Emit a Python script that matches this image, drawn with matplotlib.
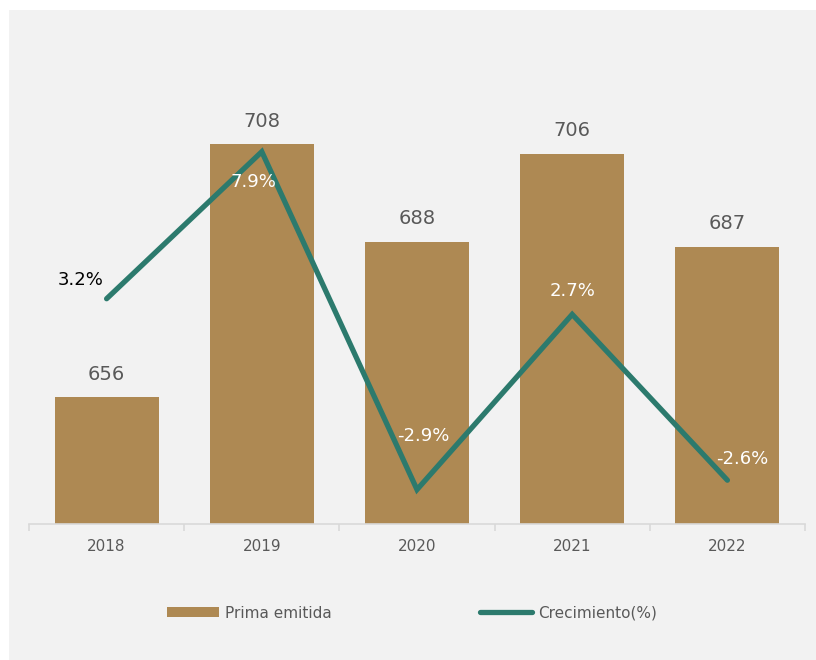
import numpy as np
import matplotlib.pyplot as plt

# datos
anios = ['2018', '2019', '2020', '2021', '2022']
prima = [656, 708, 688, 706, 687]
crecimiento = [3.2, 7.9, -2.9, 2.7, -2.6]

color_barra = '#ae8953'
color_linea = '#2c7a6d'
gris_texto = '#595959'

plt.rcParams['font.family'] = ['DejaVu Sans']

fig = plt.figure(figsize=(8.16, 6.6), dpi=100)
fig.patch.set_facecolor('white')
# panel gris de fondo
fig.patches.append(plt.Rectangle((9 / 816, 0), 1, 1 - 10 / 660, transform=fig.transFigure,
                                 facecolor='#f2f2f2', edgecolor='none', zorder=-10))

W, H = 816, 660
ax = fig.add_axes([29 / W, (H - 524) / H, (805 - 29) / W, (524 - 86) / H])
ax.set_facecolor('none')
x = np.arange(len(anios))

barras = ax.bar(x, prima, width=0.67, color=color_barra, label='Prima emitida', zorder=2)
ax.set_ylim(630, 720)
ax.set_xlim(-0.5, len(anios) - 0.5)
for xi, v in zip(x, prima):
    ax.annotate(f'{v}', (xi, v), xytext=(0, 10), textcoords='offset points',
                ha='center', va='bottom', fontsize=14, color=gris_texto)

ax.set_yticks([])
for s in ['left', 'right', 'top']:
    ax.spines[s].set_visible(False)
ax.spines['bottom'].set_color('#d9d9d9')
ax.spines['bottom'].set_linewidth(1.2)
ax.set_xticks(x)
ax.set_xticklabels(anios, fontsize=11, color=gris_texto)
ax.tick_params(axis='x', length=0, pad=11)
ax.set_xticks(np.arange(-0.5, len(anios)), minor=True)
ax.tick_params(axis='x', which='minor', length=5, color='#d9d9d9', width=1.2)

ax2 = ax.twinx()
ax2.set_ylim(-4, 10)
ax2.axis('off')
linea, = ax2.plot(x, crecimiento, color=color_linea, lw=3.8, solid_capstyle='round',
                  solid_joinstyle='miter', label='Crecimiento(%)', zorder=3)

# etiquetas de la linea
offsets = [(-26, 19, 'black'), (-8, -30, 'white'), (6, 54, 'white'), (0, 23, 'white'), (15, 21, 'white')]
for xi, v, (dx, dy, c) in zip(x, crecimiento, offsets):
    ax2.annotate(f'{v:.1f}%', (xi, v), xytext=(dx, dy), textcoords='offset pixels',
                 ha='center', va='center', fontsize=13, color=c)

leg = fig.legend([barras, linea], ['Prima emitida', 'Crecimiento(%)'], loc='center',
                 bbox_to_anchor=(0.505, 1 - 613 / H), ncol=2, frameon=False, fontsize=11,
                 handlelength=3.4, handleheight=0.55, handletextpad=0.4, columnspacing=9.7)
for t in leg.get_texts():
    t.set_color(gris_texto)

fig.savefig('out.png', dpi=100, facecolor=fig.get_facecolor())
